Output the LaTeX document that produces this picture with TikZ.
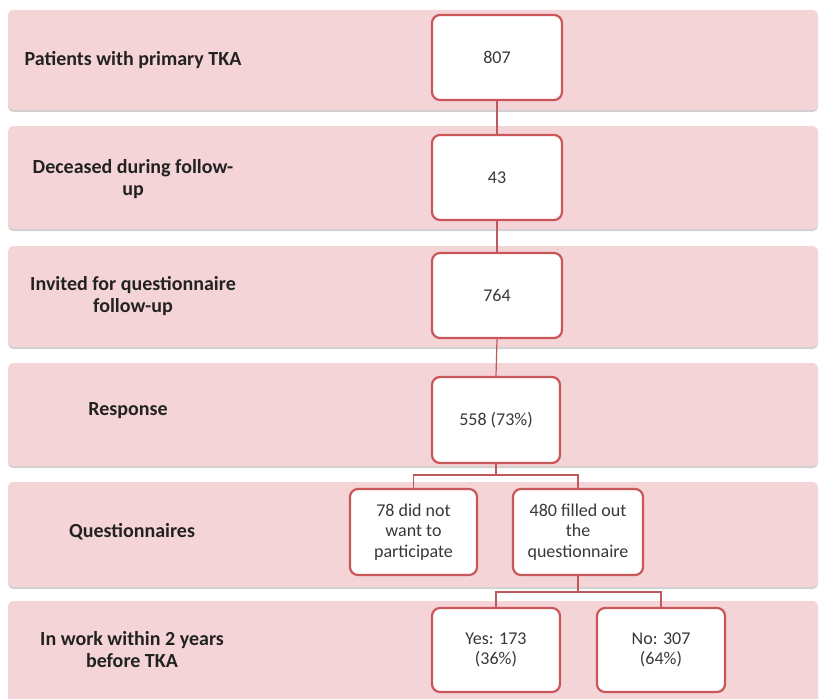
\documentclass[tikz,border=0pt]{standalone}
\usepackage{fontspec}
\setmainfont{Carlito}
\usetikzlibrary{shadows}
\definecolor{bandpink}{HTML}{F5D4D8}
\definecolor{boxred}{HTML}{C9575A}
\definecolor{linered}{HTML}{BF5A5C}
\definecolor{txt}{HTML}{222222}
\tikzset{
  band/.style={draw=none, fill=bandpink, rounded corners=5pt, minimum width=810pt,
    minimum height=102pt, inner sep=0pt,
    drop shadow={shadow xshift=0pt, shadow yshift=-2pt, opacity=0.45, fill=gray!80}},
  lab/.style={align=center, text=txt, font=\fontsize{20}{22}\selectfont\bfseries, inner sep=0pt},
  cbox/.style={draw=boxred, line width=2.2pt, fill=white, rounded corners=8pt,
    minimum width=128pt, minimum height=85pt, align=center, inner sep=2pt,
    text=txt!90, font=\fontsize{18}{20.5}\selectfont},
  conn/.style={draw=linered, line width=1.2pt}
}
\begin{document}
\begin{tikzpicture}[x=1pt,y=-1pt]
\useasboundingbox (0,0) rectangle (826,698);
\clip (0,0) rectangle (826,698);
% bands
\node[band, minimum height=100pt] (band1) at (413,60) {};
\node[band, minimum height=103pt] (band2) at (413,177.5) {};
\node[band, minimum height=101pt] (band3) at (413,296.5) {};
\node[band, minimum height=103pt] (band4) at (413,414.5) {};
\node[band, minimum height=105pt] (band5) at (413,534.5) {};
\node[band, minimum height=112pt] (band6) at (413,657) {};
% labels
\node[lab] (lab1) at (133,60) {Patients with primary TKA};
\node[lab] (lab2) at (133,179) {Deceased during follow-\\up};
\node[lab] (lab3) at (133,296) {Invited for questionnaire\\follow-up};
\node[lab] (lab4) at (128,411) {Response};
\node[lab] (lab5) at (132,532) {Questionnaires};
\node[lab] (lab6) at (132,650) {In work within 2 years\\before TKA};
% boxes
\node[cbox, minimum width=130pt] (n807) at (497,57.5) {807};
\node[cbox, minimum width=130pt] (n43) at (497,177.5) {43};
\node[cbox, minimum width=130pt] (n764) at (497,295.5) {764};
\node[cbox, minimum height=86pt] (n558) at (496,420) {558 (73\%)};
\node[cbox, minimum width=127pt, minimum height=86pt] (n78) at (413.5,532) {78 did not\\want to\\participate};
\node[cbox, minimum width=130pt, minimum height=86pt] (n480) at (578,532) {480 filled out\\the\\questionnaire};
\node[cbox, minimum height=84pt] (nyes) at (496,650) {Yes: 173\\(36\%)};
\node[cbox, minimum height=84pt] (nno) at (661,650) {No: 307\\(64\%)};
% connectors
\coordinate (j1) at (496,475);
\coordinate (j2) at (578,592);
\draw[conn] (n807) -- (n43);
\draw[conn] (n43) -- (n764);
\draw[conn] (n764.south) -- (n558.north);
\draw[conn] (n558.south) -- (j1) -| (n78.north);
\draw[conn] (j1) -| (n480.north);
\draw[conn] (n480.south) -- (j2) -| (nyes.north);
\draw[conn] (j2) -| (nno.north);
\end{tikzpicture}
\end{document}
